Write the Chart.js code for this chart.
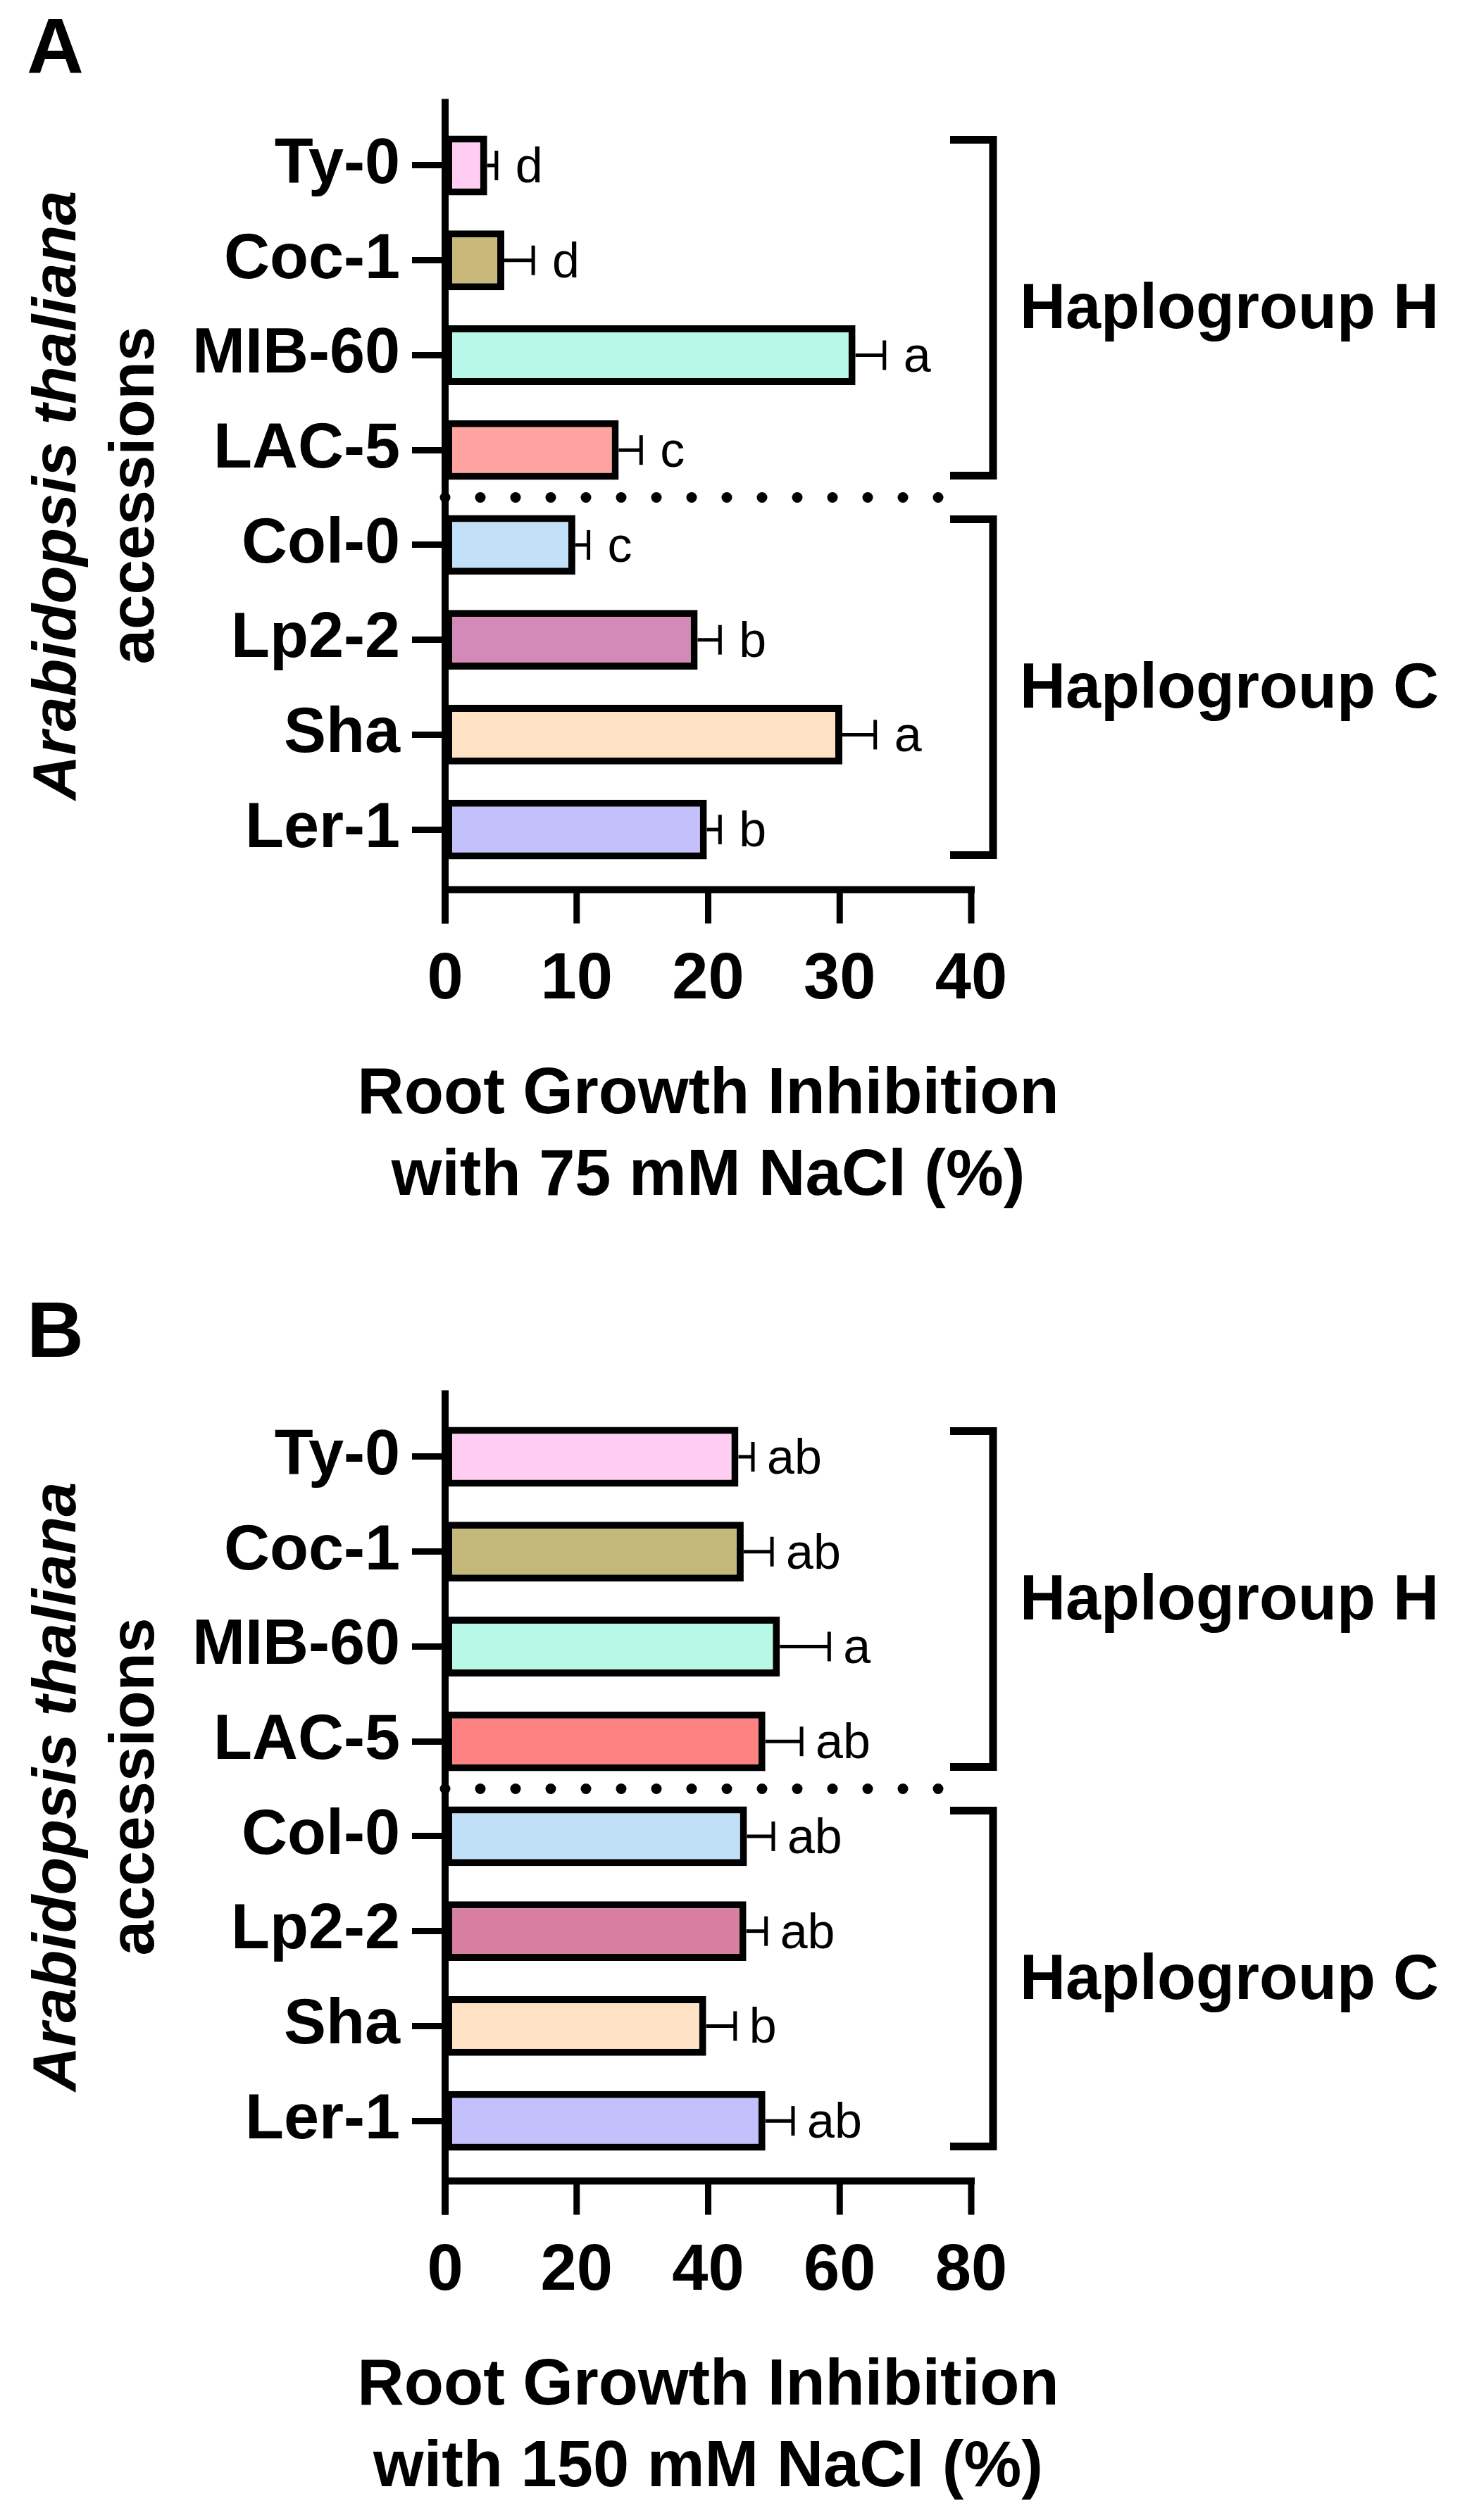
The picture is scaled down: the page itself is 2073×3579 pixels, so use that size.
<!DOCTYPE html>
<html>
<head>
<meta charset="utf-8">
<script src="https://cdn.jsdelivr.net/npm/chart.js@4.4.1/dist/chart.umd.min.js"></script>
<style>
  html, body { margin: 0; padding: 0; background: #fff; }
  canvas { display: block; }
</style>
</head>
<body>
<canvas id="chartA" width="2073" height="1834"></canvas>
<canvas id="chartB" width="2073" height="1745"></canvas>
<script>
// accessions, top to bottom
const accessions = ['Ty-0', 'Coc-1', 'MIB-60', 'LAC-5', 'Col-0', 'Lp2-2', 'Sha', 'Ler-1'];

// panel A: 75 mM NaCl
const inhibition75 = [3.2, 4.5, 31.2, 13.2, 9.9, 19.2, 30.2, 19.9];
const sem75 = [0.7, 2.2, 2.2, 1.7, 1.0, 1.7, 2.5, 1.0];
const letters75 = ['d', 'd', 'a', 'c', 'c', 'b', 'a', 'b'];
const ticks75 = [0, 10, 20, 30, 40];
const colors75 = ['#FFCCF2', '#C8B87A', '#B8F8E8', '#FFA3A0', '#C2E0F8', '#D48AB8', '#FFE2C4', '#C4C0FC'];

// panel B: 150 mM NaCl
const inhibition150 = [44.6, 45.4, 50.9, 48.7, 45.9, 45.8, 39.7, 48.7];
const sem150 = [2.2, 4.3, 7.5, 5.5, 4.0, 3.0, 4.4, 4.2];
const letters150 = ['ab', 'ab', 'a', 'ab', 'ab', 'ab', 'b', 'ab'];
const ticks150 = [0, 20, 40, 60, 80];
const colors150 = ['#FFCCF2', '#C4B77A', '#B8F8E6', '#FF8282', '#C0E0F8', '#D87EA0', '#FFE2C4', '#C4C0FC'];

const haplogroups = [
    { label: 'Haplogroup H', from: 0, to: 3 },
    { label: 'Haplogroup C', from: 4, to: 7 }
];

const FONT = '"Liberation Sans", Arial, Helvetica, sans-serif';

// error bars, letters, axes, dotted separator, brackets, titles
const annotations = {
    id: 'annotations',
    afterDatasetsDraw(chart, args, o) {
        const ctx = chart.ctx;
        const xs = chart.scales.x, ys = chart.scales.y;
        const area = chart.chartArea;
        const meta = chart.getDatasetMeta(0);
        const values = chart.data.datasets[0].data;

        ctx.save();
        ctx.strokeStyle = '#000';
        ctx.fillStyle = '#000';

        // error bars (one-sided) and significance letters
        meta.data.forEach((bar, i) => {
            const cy = bar.y;
            const x0 = xs.getPixelForValue(values[i]);
            const x1 = xs.getPixelForValue(values[i] + o.sem[i]);
            ctx.lineWidth = 5;
            ctx.beginPath(); ctx.moveTo(x0, cy); ctx.lineTo(x1, cy); ctx.stroke();
            ctx.beginPath(); ctx.moveTo(x1, cy - 21); ctx.lineTo(x1, cy + 21); ctx.stroke();
            ctx.font = '70px ' + FONT;
            ctx.textAlign = 'left';
            ctx.textBaseline = 'alphabetic';
            ctx.fillText(o.letters[i], x1 + o.letterGap, cy + 24);
        });

        // axes drawn GraphPad style, x axis offset below the bars
        const axisY = area.bottom + 18;
        ctx.lineWidth = 10;
        ctx.beginPath(); ctx.moveTo(area.left, area.top - 27); ctx.lineTo(area.left, axisY + 48); ctx.stroke();
        ctx.beginPath(); ctx.moveTo(area.left - 5, axisY); ctx.lineTo(xs.getPixelForValue(xs.max) + 5, axisY); ctx.stroke();
        ctx.lineWidth = 9;
        xs.ticks.forEach(t => {
            const px = xs.getPixelForValue(t.value);
            ctx.beginPath(); ctx.moveTo(px, axisY); ctx.lineTo(px, axisY + 48); ctx.stroke();
        });

        // x axis title (drawn here so it is not squeezed to the axis width)
        ctx.font = 'bold 92px ' + FONT;
        ctx.textAlign = 'center';
        ctx.textBaseline = 'middle';
        const midX = (area.left + area.right) / 2;
        ctx.fillText(o.xTitle[0], midX, axisY + 292);
        ctx.fillText(o.xTitle[1], midX, axisY + 408);

        // dotted line between haplogroups
        const sepY = (ys.getPixelForValue(3) + ys.getPixelForValue(4)) / 2;
        for (let k = 0; k < 15; k++) {
            ctx.beginPath();
            ctx.arc(area.left + 50 * k, sepY, 7.5, 0, Math.PI * 2);
            ctx.fill();
        }

        // brackets + haplogroup names
        const half = meta.data[0].height / 2;
        const bx = area.right + 31, armX = area.right - 30;
        haplogroups.forEach(g => {
            const top = ys.getPixelForValue(g.from) - half + 6;
            const bottom = ys.getPixelForValue(g.to) + half - 6;
            ctx.lineWidth = 11;
            ctx.lineJoin = 'miter';
            ctx.beginPath();
            ctx.moveTo(armX, top); ctx.lineTo(bx, top); ctx.lineTo(bx, bottom); ctx.lineTo(armX, bottom);
            ctx.stroke();
            ctx.font = 'bold 90px ' + FONT;
            ctx.textAlign = 'left';
            ctx.textBaseline = 'middle';
            ctx.fillText(g.label, bx + 38, (top + bottom) / 2 + 4);
        });

        // panel letter
        ctx.font = 'bold 112px ' + FONT;
        ctx.textAlign = 'left';
        ctx.textBaseline = 'alphabetic';
        ctx.fillText(o.panel, 38, o.panelY);

        // y axis title, two lines, first one in italics
        const cy = (area.top + area.bottom) / 2 - 3;
        ctx.textAlign = 'center';
        ctx.save();
        ctx.translate(107, cy); ctx.rotate(-Math.PI / 2);
        ctx.font = 'italic bold 88px ' + FONT;
        ctx.fillText('Arabidopsis thaliana', 0, 0);
        ctx.restore();
        ctx.save();
        ctx.translate(218, cy); ctx.rotate(-Math.PI / 2);
        ctx.font = 'bold 89px ' + FONT;
        ctx.fillText('accessions', 0, 0);
        ctx.restore();

        ctx.restore();
    }
};

function makePanel(canvasId, values, sem, letters, colors, ticks, xTitle, panel, panelY, letterGap) {
    const canvas = document.getElementById(canvasId);
    return new Chart(canvas, {
        type: 'bar',
        data: {
            labels: accessions,
            datasets: [{
                data: values,
                backgroundColor: colors,
                borderColor: '#000',
                borderWidth: 10,
                borderSkipped: false,
                barPercentage: 0.63,
                categoryPercentage: 1
            }]
        },
        options: {
            indexAxis: 'y',
            responsive: false,
            animation: false,
            devicePixelRatio: 1,
            layout: { padding: { left: 0, right: 694, top: 167.6, bottom: canvas.height - 1692.5 } },
            plugins: {
                legend: { display: false },
                tooltip: { enabled: false },
                annotations: { sem: sem, letters: letters, panel: panel, panelY: panelY, letterGap: letterGap, xTitle: xTitle }
            },
            scales: {
                y: {
                    type: 'category',
                    offset: true,
                    grid: { display: true, offset: false, drawOnChartArea: false, drawTicks: true, tickLength: 47, lineWidth: 9, color: '#000' },
                    border: { display: false },
                    ticks: { color: '#000', padding: 17, font: { family: FONT, size: 90, weight: 'bold' } },
                    afterFit: s => { s.width = 632; }
                },
                x: {
                    type: 'linear',
                    min: ticks[0],
                    max: ticks[ticks.length - 1],
                    grid: { display: false, drawTicks: false },
                    border: { display: false },
                    ticks: { color: '#000', padding: 92, maxRotation: 0, autoSkip: false, font: { family: FONT, size: 92, weight: 'bold' } },
                    afterBuildTicks: s => { s.ticks = ticks.map(v => ({ value: v })); },
                    title: { display: false },
                    afterFit: s => { s.height = 447; }
                }
            }
        },
        plugins: [annotations]
    });
}

makePanel('chartA', inhibition75, sem75, letters75, colors75, ticks75,
    ['Root Growth Inhibition', 'with 75 mM NaCl (%)'], 'A', 104, 27);
makePanel('chartB', inhibition150, sem150, letters150, colors150, ticks150,
    ['Root Growth Inhibition', 'with 150 mM NaCl (%)'], 'B', 93, 20);
</script>
</body>
</html>
